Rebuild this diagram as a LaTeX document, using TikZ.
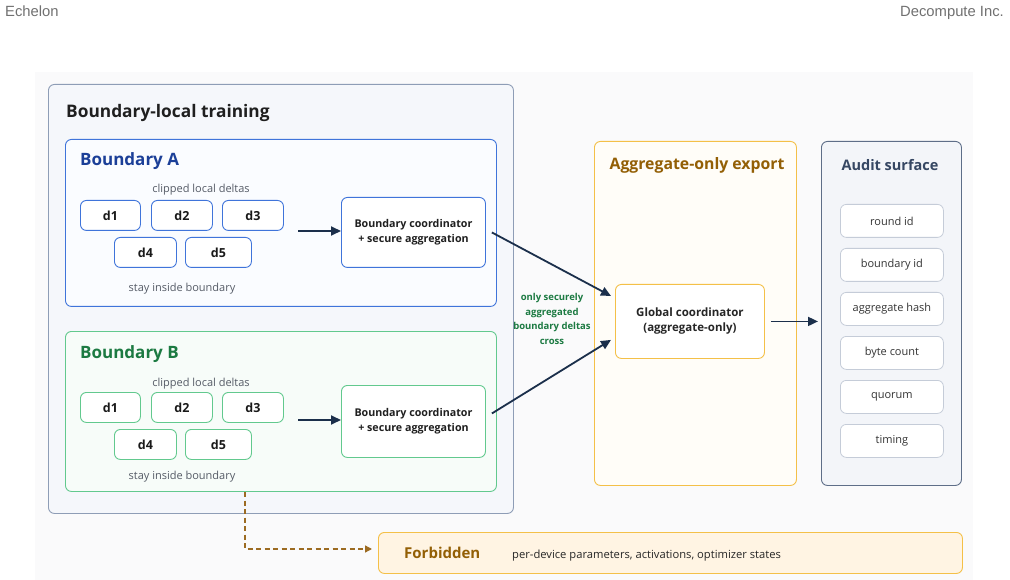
\documentclass[tikz,border=0pt]{standalone}
\usepackage{fontspec}
\setmainfont{Open Sans}
\newfontfamily\hdrfont{Liberation Sans}
\usetikzlibrary{arrows.meta,positioning}
\definecolor{bgpanel}{HTML}{FAFAFB}
\definecolor{outerdraw}{HTML}{8E9DB6}
\definecolor{outerfill}{HTML}{F5F7FB}
\definecolor{bluedraw}{HTML}{3F74DA}
\definecolor{bluetext}{HTML}{1B3F98}
\definecolor{bluefill}{HTML}{FAFCFF}
\definecolor{greendraw}{HTML}{62C98E}
\definecolor{greentext}{HTML}{1C7A42}
\definecolor{greenfill}{HTML}{F7FCF9}
\definecolor{orangedraw}{HTML}{F4C048}
\definecolor{orangefill}{HTML}{FFFDF8}
\definecolor{browntext}{HTML}{935F05}
\definecolor{forbfill}{HTML}{FFF4E3}
\definecolor{auditdraw}{HTML}{5E6E88}
\definecolor{auditfill}{HTML}{F3F5F9}
\definecolor{audittext}{HTML}{364763}
\definecolor{itemdraw}{HTML}{C5CCD8}
\definecolor{navy}{HTML}{1B2F4B}
\definecolor{greytext}{HTML}{555B66}
\definecolor{hdrgrey}{HTML}{707070}
\definecolor{dashbrown}{HTML}{9C6B22}
\tikzset{
  box/.style={draw, rounded corners=6pt, inner sep=0pt, anchor=north west, line width=0.9pt},
  dbox/.style={box, fill=white, minimum height=30pt, font=\fontsize{12.5}{15}\selectfont\bfseries, text=black!90},
  coordbox/.style={box, fill=white, minimum width=144pt, align=center, font=\fontsize{10.7}{14.5}\selectfont\bfseries, text=black!88},
  item/.style={box, draw=itemdraw, fill=white, line width=0.8pt, minimum width=103pt, minimum height=33pt, font=\fontsize{11}{13}\selectfont, text=black!80},
  arr/.style={draw=navy, line width=1.8pt, -{Triangle[length=10pt,width=9pt]}},
  small/.style={font=\fontsize{11}{13}\selectfont, text=greytext, anchor=base},
}
\begin{document}
\begin{tikzpicture}[x=1pt,y=-1pt]
\useasboundingbox (0,0) rectangle (1010,580);
% header
\node[anchor=base west, inner sep=0, font=\hdrfont\fontsize{14.8}{17}\selectfont, text=hdrgrey] (hl) at (5,17) {Echelon};
\node[anchor=base east, inner sep=0, font=\hdrfont\fontsize{14.8}{17}\selectfont, text=hdrgrey] (hr) at (1004,17) {Decompute Inc.};
% background panel
\node[inner sep=0, anchor=north west, fill=bgpanel, minimum width=938pt, minimum height=508pt] (bg) at (35,72) {};
% outer box
\node[box, draw=outerdraw, fill=outerfill, minimum width=465pt, minimum height=429pt] (outer) at (48,84) {};
\node[anchor=base west, inner sep=0, font=\fontsize{17.3}{20}\selectfont\bfseries, text=black!88] (outert) at (66,118) {Boundary-local training};
% Boundary A
\node[box, draw=bluedraw, fill=bluefill, minimum width=431pt, minimum height=167pt] (ba) at (65,139) {};
\node[anchor=base west, inner sep=0, font=\fontsize{17}{20}\selectfont\bfseries, text=bluetext] (bat) at (80,166) {Boundary A};
\node[small] (bacl) at (201,193) {clipped local deltas};
\node[dbox, draw=bluedraw, minimum width=60pt] (a1) at (80,200) {d1};
\node[dbox, draw=bluedraw, minimum width=61pt] (a2) at (151,200) {d2};
\node[dbox, draw=bluedraw, minimum width=61pt] (a3) at (222,200) {d3};
\node[dbox, draw=bluedraw, minimum width=62pt] (a4) at (114,237) {d4};
\node[dbox, draw=bluedraw, minimum width=66pt] (a5) at (185,237) {d5};
\node[small] (bast) at (182,291) {stay inside boundary};
\coordinate (aarrs) at (298,231);
\node[coordbox, draw=bluedraw, minimum height=70pt] (ca) at (341,197) {Boundary coordinator\\+ secure aggregation};
\draw[arr] (aarrs) -- (ca.west |- aarrs);
% Boundary B
\node[box, draw=greendraw, fill=greenfill, minimum width=431pt, minimum height=160pt] (bb) at (65,331) {};
\node[anchor=base west, inner sep=0, font=\fontsize{17}{20}\selectfont\bfseries, text=greentext] (bbt) at (80,358) {Boundary B};
\node[small] (bbcl) at (201,386) {clipped local deltas};
\node[dbox, draw=greendraw, minimum width=60pt] (b1) at (80,392) {d1};
\node[dbox, draw=greendraw, minimum width=61pt] (b2) at (151,392) {d2};
\node[dbox, draw=greendraw, minimum width=61pt] (b3) at (222,392) {d3};
\node[dbox, draw=greendraw, minimum width=62pt] (b4) at (114,429) {d4};
\node[dbox, draw=greendraw, minimum width=66pt] (b5) at (185,429) {d5};
\node[small] (bbst) at (182,479) {stay inside boundary};
\coordinate (barrs) at (298,420);
\node[coordbox, draw=greendraw, minimum height=72pt] (cb) at (341,385) {Boundary coordinator\\+ secure aggregation};
\draw[arr] (barrs) -- (cb.west |- barrs);
% Aggregate-only export
\node[box, draw=orangedraw, fill=orangefill, minimum width=202pt, minimum height=344pt] (agg) at (594,141) {};
\node[anchor=base, inner sep=0, font=\fontsize{15.8}{18}\selectfont\bfseries, text=browntext] (aggt) at (697,170) {Aggregate-only export};
\node[box, draw=orangedraw, fill=white, minimum width=149pt, minimum height=74pt, align=center, font=\fontsize{11.5}{15}\selectfont\bfseries, text=black!85] (gc) at (615,284) {Global coordinator\\(aggregate-only)};
% green label
\node[align=center, inner sep=0, font=\fontsize{9.5}{14.5}\selectfont\bfseries, text=greentext] (only) at (552,319) {only securely\\aggregated\\boundary deltas\\cross};
% Audit surface
\node[box, draw=auditdraw, fill=auditfill, minimum width=140pt, minimum height=344pt] (aud) at (821,141) {};
\node[anchor=base, inner sep=0, font=\fontsize{14.5}{18}\selectfont\bfseries, text=audittext] (audt) at (890,171) {Audit surface};
\node[item] (i1) at (840,204) {round id};
\node[item] (i2) at (840,248) {boundary id};
\node[item] (i3) at (840,292) {aggregate hash};
\node[item] (i4) at (840,336) {byte count};
\node[item] (i5) at (840,380) {quorum};
\node[item] (i6) at (840,424) {timing};
% arrows
\draw[arr] ([xshift=6pt]ca.east) -- ([xshift=-4pt,yshift=-12pt]gc.north west);
\draw[arr] ([xshift=6pt,yshift=8pt]cb.east) -- ([xshift=-4pt,yshift=19pt]gc.south west);
\draw[arr] ([xshift=6pt]gc.east) -- ([xshift=-3pt]aud.west |- gc.east);
% Forbidden
\node[box, draw=orangedraw, fill=forbfill, minimum width=584pt, minimum height=41pt] (forb) at (378,532) {};
\node[anchor=base west, inner sep=0, font=\fontsize{15}{17}\selectfont\bfseries, text=browntext] (forbt) at (404,558) {Forbidden};
\node[anchor=base west, inner sep=0, font=\fontsize{11.2}{13}\selectfont, text=black!85] (forbd) at (512,558) {per-device parameters, activations, optimizer states};
\coordinate (dstart) at (245,492);
\draw[draw=dashbrown, line width=1.3pt, dash pattern=on 5pt off 3.5pt, -{Triangle[length=7pt,width=7pt]}] (dstart) |- ([xshift=-6pt]forb.west |- 0,549);
\end{tikzpicture}
\end{document}
